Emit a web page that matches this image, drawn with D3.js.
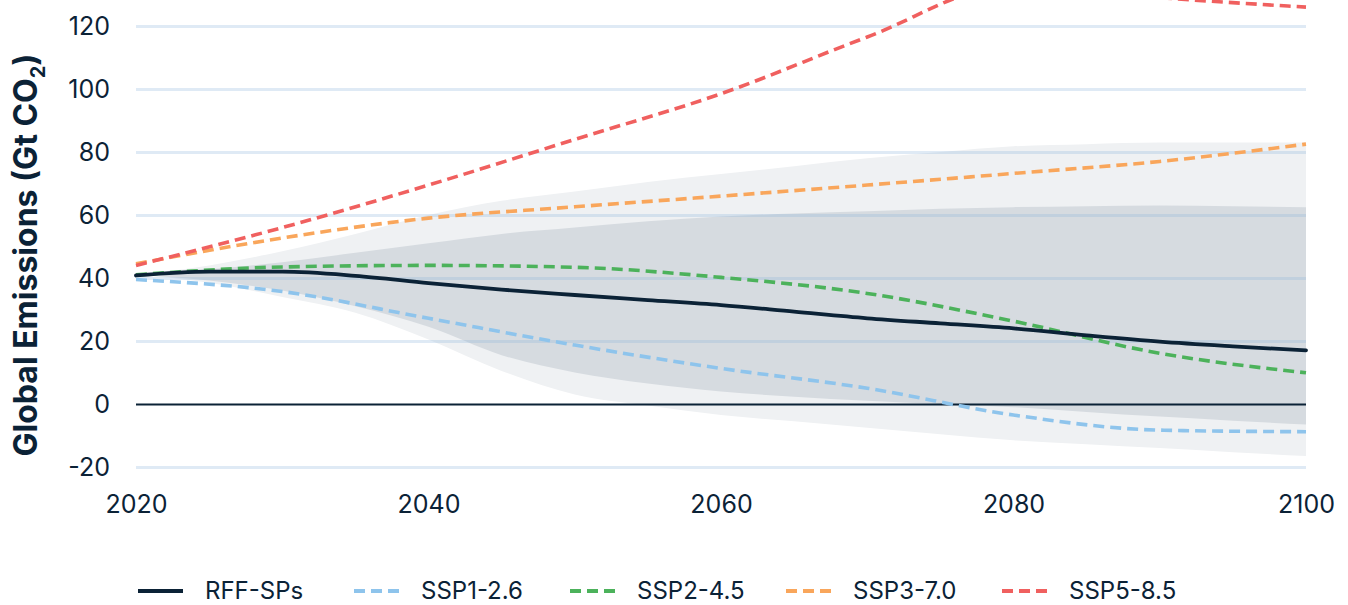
<!DOCTYPE html>
<html>
<head>
<meta charset="utf-8">
<script src="https://cdn.jsdelivr.net/npm/d3@7"></script>
<style>
  html, body { margin: 0; padding: 0; background: #ffffff; }
  svg { display: block; font-family: "Inter", "Noto Sans", sans-serif; }
</style>
</head>
<body>
<svg id="chart" width="1348" height="605"></svg>
<script>
// Years sampled for the RFF-SP median and its uncertainty bands
const bandYears = [2020, 2025, 2030, 2035, 2040, 2045, 2050, 2055, 2060, 2065, 2070, 2075, 2080, 2085, 2090, 2095, 2100];
const rffMedian = [40.8, 42.0, 42.0, 40.7, 38.4, 36.3, 34.6, 33.0, 31.4, 29.3, 27.2, 25.6, 24.0, 21.8, 19.8, 18.3, 17.0];
const innerUpper = [41.0, 42.8, 45.0, 48.0, 51.0, 54.0, 56.0, 58.0, 59.5, 60.5, 61.2, 62.0, 62.5, 62.8, 63.0, 62.8, 62.5];
const innerLower = [41.0, 39.2, 36.0, 31.0, 24.5, 15.5, 10.0, 6.5, 4.0, 2.3, 1.0, 0.0, -1.0, -2.5, -4.0, -5.3, -6.5];
const outerUpper = [41.0, 44.0, 48.5, 54.0, 60.0, 64.5, 67.5, 70.5, 73.0, 75.5, 78.0, 80.0, 81.8, 82.5, 83.0, 83.0, 83.0];
const outerLower = [41.0, 38.5, 34.0, 29.0, 20.5, 10.5, 3.0, -0.5, -3.5, -5.5, -7.5, -9.6, -11.5, -12.8, -14.0, -15.3, -16.5];

// SSP marker scenarios, decadal
const sspYears = [2020, 2030, 2040, 2050, 2060, 2070, 2080, 2090, 2100];
const ssp126 = [39.5, 35.7, 27.2, 18.7, 11.3, 5.0, -3.5, -8.3, -8.8];
const ssp245 = [41.0, 43.5, 44.0, 43.4, 40.2, 35.1, 26.3, 16.1, 9.9];
const ssp370 = [44.5, 52.7, 59.0, 62.6, 66.0, 69.5, 73.2, 77.0, 82.5];
const ssp585 = [44.0, 56.0, 69.5, 84.0, 98.5, 116.5, 133.0, 129.0, 126.0];

const yTicks = [-20, 0, 20, 40, 60, 80, 100, 120];
const xTicks = [2020, 2040, 2060, 2080, 2100];

const seriesNames = ["RFF-SPs", "SSP1-2.6", "SSP2-4.5", "SSP3-7.0", "SSP5-8.5"];
const seriesColors = ["#0b2236", "#8ec4ec", "#4cb25b", "#f9a65b", "#f0605f"];

const navy = "#0b2236";
const svg = d3.select("#chart");

const x = d3.scaleLinear().domain([2020, 2100]).range([136, 1306]);
const y = d3.scaleLinear().domain([-20, 120]).range([467, 26]);

// Uncertainty bands
const bandArea = (lo, hi) => d3.area()
  .x((d, i) => x(bandYears[i]))
  .y0((d, i) => y(lo[i]))
  .y1((d, i) => y(hi[i]))
  .curve(d3.curveMonotoneX);

svg.append("path").datum(bandYears)
  .attr("d", bandArea(outerLower, outerUpper))
  .attr("fill", "#eff1f3");
svg.append("path").datum(bandYears)
  .attr("d", bandArea(innerLower, innerUpper))
  .attr("fill", "#d6dbe0");

// Horizontal gridlines and y labels
const yAxis = d3.axisLeft(y).tickValues(yTicks).tickSize(0).tickPadding(26).tickFormat(d => String(d));
const gy = svg.append("g").attr("transform", `translate(${x(2020)},0)`).call(yAxis);
gy.select(".domain").remove();
gy.selectAll(".tick text")
  .attr("font-family", "Inter, sans-serif")
  .attr("font-size", 25)
  .attr("fill", navy);
gy.selectAll(".tick").filter(d => d !== 0).append("line")
  .attr("x1", 0).attr("x2", x(2100) - x(2020))
  .attr("stroke", "rgba(140,180,220,0.28)")
  .attr("stroke-width", 3);
gy.selectAll(".tick").filter(d => d === 0).append("line")
  .attr("x1", 0).attr("x2", x(2100) - x(2020))
  .attr("stroke", navy)
  .attr("stroke-width", 2.2);

// X axis labels
const xAxis = d3.axisBottom(x).tickValues(xTicks).tickSize(0).tickPadding(28).tickFormat(d => String(d));
const gx = svg.append("g").attr("transform", `translate(0,${y(-20)})`).call(xAxis);
gx.select(".domain").remove();
gx.selectAll(".tick text")
  .attr("font-family", "Inter, sans-serif")
  .attr("font-size", 25)
  .attr("fill", navy);

// Scenario lines
const sspLine = d3.line()
  .x((d, i) => x(sspYears[i]))
  .y(d => y(d))
  .curve(d3.curveMonotoneX);
const sspSeries = [ssp126, ssp245, ssp370, ssp585];
sspSeries.forEach((vals, k) => {
  svg.append("path").datum(vals)
    .attr("d", sspLine)
    .attr("fill", "none")
    .attr("stroke", seriesColors[k + 1])
    .attr("stroke-width", 3.6)
    .attr("stroke-dasharray", "11,6");
});

const medLine = d3.line()
  .x((d, i) => x(bandYears[i]))
  .y(d => y(d))
  .curve(d3.curveMonotoneX);
svg.append("path").datum(rffMedian)
  .attr("d", medLine)
  .attr("fill", "none")
  .attr("stroke", navy)
  .attr("stroke-width", 3.8)
  .attr("stroke-linecap", "round");

// Y axis title
const yTitle = svg.append("text")
  .attr("transform", `translate(37,${255}) rotate(-90)`)
  .attr("text-anchor", "middle")
  .attr("font-family", "Inter, sans-serif")
  .attr("font-weight", 700)
  .attr("font-size", 32)
  .attr("fill", navy);
yTitle.append("tspan").text("Global Emissions (Gt CO");
yTitle.append("tspan").attr("font-size", 20).attr("dy", 8).text("2");
yTitle.append("tspan").attr("dy", -8).text(")");

// Legend
const legend = svg.append("g").attr("transform", "translate(138,591)");
seriesNames.forEach((name, i) => {
  const g = legend.append("g").attr("transform", `translate(${i * 216},0)`);
  g.append("line")
    .attr("x1", 0).attr("x2", 45)
    .attr("stroke", seriesColors[i])
    .attr("stroke-width", 3.8)
    .attr("stroke-dasharray", i === 0 ? null : "11,6");
  g.append("text")
    .attr("x", 67).attr("y", 8)
    .attr("font-family", "Inter, sans-serif")
    .attr("font-size", 24)
    .attr("fill", navy)
    .text(name);
});
</script>
</body>
</html>
